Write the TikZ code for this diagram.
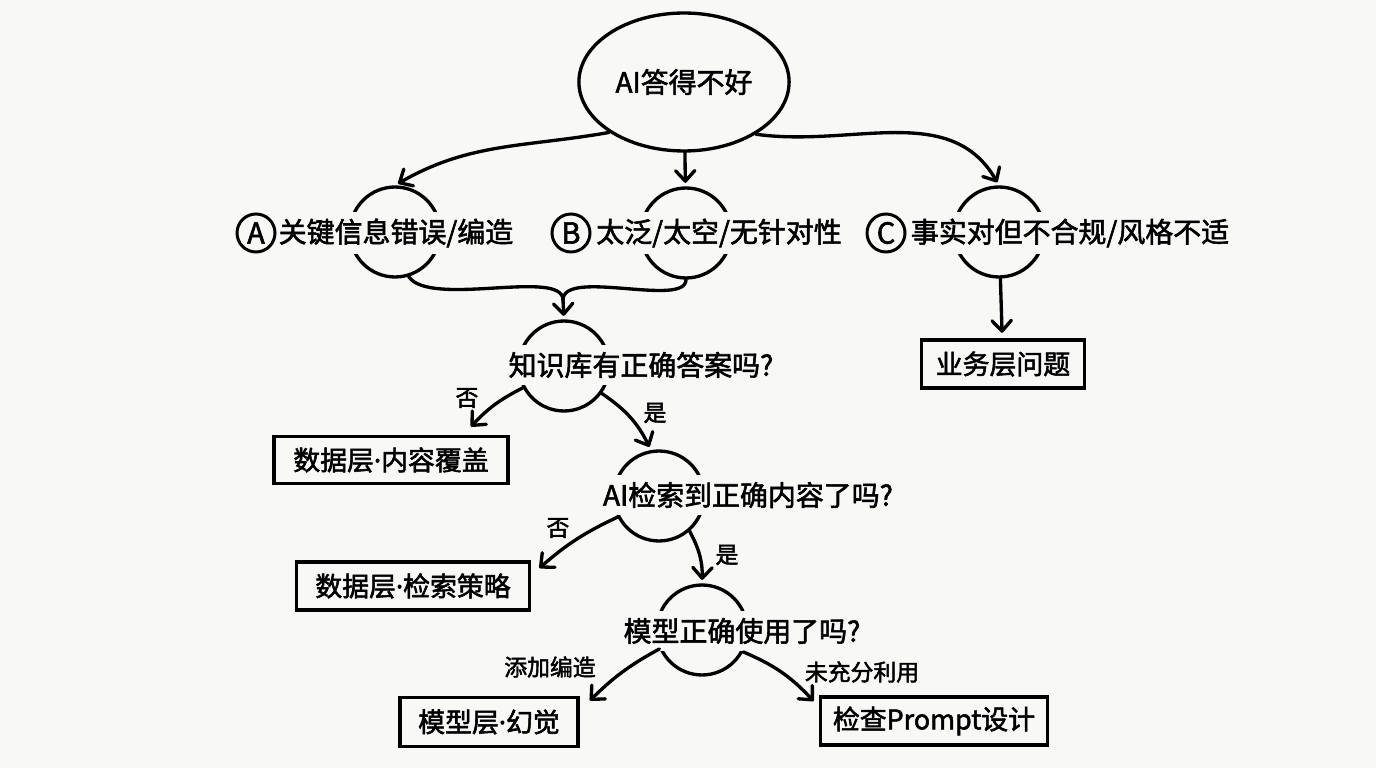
\documentclass[tikz,border=0pt]{standalone}
\usepackage{fontspec}
\setmainfont{Noto Sans CJK SC}[FakeBold=2]
\newfontfamily\dotfont{Noto Sans}[FakeBold=2]
\usetikzlibrary{arrows.meta,shapes.geometric,positioning,calc}
\definecolor{paper}{HTML}{F8F8F7}
\newcommand{\middot}{{\dotfont\char"00B7}}
\tikzset{
	ring/.style={circle, draw, line width=1.9pt, minimum size=1.8cm, inner sep=0pt},
	qtext/.style={fill=paper, inner xsep=1pt, inner ysep=4pt, font=\fontsize{15.9pt}{18pt}\selectfont},
	badge/.style={circle, draw, line width=1.7pt, minimum size=0.76cm, inner sep=0pt, font=\fontsize{16.5pt}{18pt}\selectfont},
	layerbox/.style={rectangle, draw, line width=2.2pt, inner sep=0pt, font=\fontsize{15.3pt}{18pt}\selectfont},
	flow/.style={-{Straight Barb[length=6pt,width=11pt,round]}, line width=1.9pt, line cap=round},
	branch/.style={font=\fontsize{13pt}{15pt}\selectfont}
}
\begin{document}
\begin{tikzpicture}[x=0.02cm, y=0.02cm]
	
	\fill[paper] (0,0) rectangle (1376,768);
	\useasboundingbox (0,0) rectangle (1376,768);
	
	%Starting point
	\node (root) at (684,686) [ellipse, draw, line width=1.9pt, minimum width=3.24cm, minimum height=2.76cm, font=\fontsize{15.9pt}{18pt}\selectfont]{AI答得不好};
	
	%Three kinds of bad answers
	\node[ring] (ringA) at (395,536) {};
	\node[ring] (ringB) at (686,535) {};
	\node[ring] (ringC) at (999,536) {};
	\node[qtext] (typeA) at (396,535) {关键信息错误/编造};
	\node[qtext] (typeB) at (719,535) {太泛/太空/无针对性};
	\node[qtext] (typeC) at (1070,535) {事实对但不合规/风格不适};
	\node[badge] (badgeA) at (256,535) {A};
	\node[badge] (badgeB) at (571,535) {B};
	\node[badge] (badgeC) at (886,535) {C};
	
	\draw[flow, shorten >=2pt] (root.214) to[out=190, in=30] (ringA.north);
	\draw[flow, shorten >=2pt] (root) -- (ringB);
	\draw[flow, shorten >=2pt] (root.324) to[out=-8, in=120] (ringC.north);
	
	%Business layer
	\node[layerbox, minimum width=3.26cm, minimum height=0.96cm] (bizBox) at (1003,404) {业务层问题};
	\draw[flow, shorten >=3pt] (ringC) -- (bizBox);
	
	%A and B merge
	\coordinate (join) at (563,468);
	\draw[line width=1.9pt, line cap=round] (ringA.287) .. controls (430,460) and (563,500) .. (join);
	\draw[line width=1.9pt, line cap=round] (ringB.south) .. controls (686,460) and (563,500) .. (join);
	
	%First question
	\node[ring] (ringQ1) at (564,402) {};
	\node[qtext] (askKB) at (641,403) {知识库有正确答案吗?};
	\draw[flow, shorten >=2pt] (join) -- (ringQ1.north);
	
	\node[layerbox, minimum width=4.68cm, minimum height=0.94cm] (coverBox) at (391,308) {数据层\middot 内容覆盖};
	\draw[flow] (ringQ1.208) to[bend right=10] ($(coverBox.north east)+(-39,8)$);
	\node[branch] (noKB) at (467,370) {否};
	
	%Second question
	\node[ring] (ringQ2) at (659,272) {};
	\node[qtext] (askSearch) at (748,273) {AI检索到正确内容了吗?};
	\draw[flow, shorten >=2pt] (ringQ1.324) to[bend left=15] (ringQ2.100);
	\node[branch] (yesKB) at (655,355) {是};
	
	\node[layerbox, minimum width=4.66cm, minimum height=0.96cm] (searchBox) at (413,182) {数据层\middot 检索策略};
	\draw[flow] (ringQ2.207) to[bend right=8] ($(searchBox.north east)+(8,-8)$);
	\node[branch] (noSearch) at (558,240) {否};
	
	%Third question
	\node[ring] (ringQ3) at (702,138) {};
	\node[qtext] (askModel) at (742,137) {模型正确使用了吗?};
	\draw[flow, shorten >=2pt] (ringQ2.311) to[bend left=15] (ringQ3.north);
	\node[branch] (yesSearch) at (727,213) {是};
	
	\node[layerbox, minimum width=3.56cm, minimum height=0.98cm] (halluBox) at (489,46) {模型层\middot 幻觉};
	\node[layerbox, minimum width=4.54cm, minimum height=0.96cm] (promptBox) at (934,47) {检查Prompt设计};
	\draw[flow] (ringQ3.204) to[bend right=8] ($(halluBox.north east)+(10,-5)$);
	\draw[flow] (ringQ3.332) to[bend left=12] ($(promptBox.north west)+(-5,-6)$);
	\node[branch] (madeUp) at (550,101) {添加编造};
	\node[branch] (underUsed) at (862,96) {未充分利用};
	
\end{tikzpicture}
\end{document}
